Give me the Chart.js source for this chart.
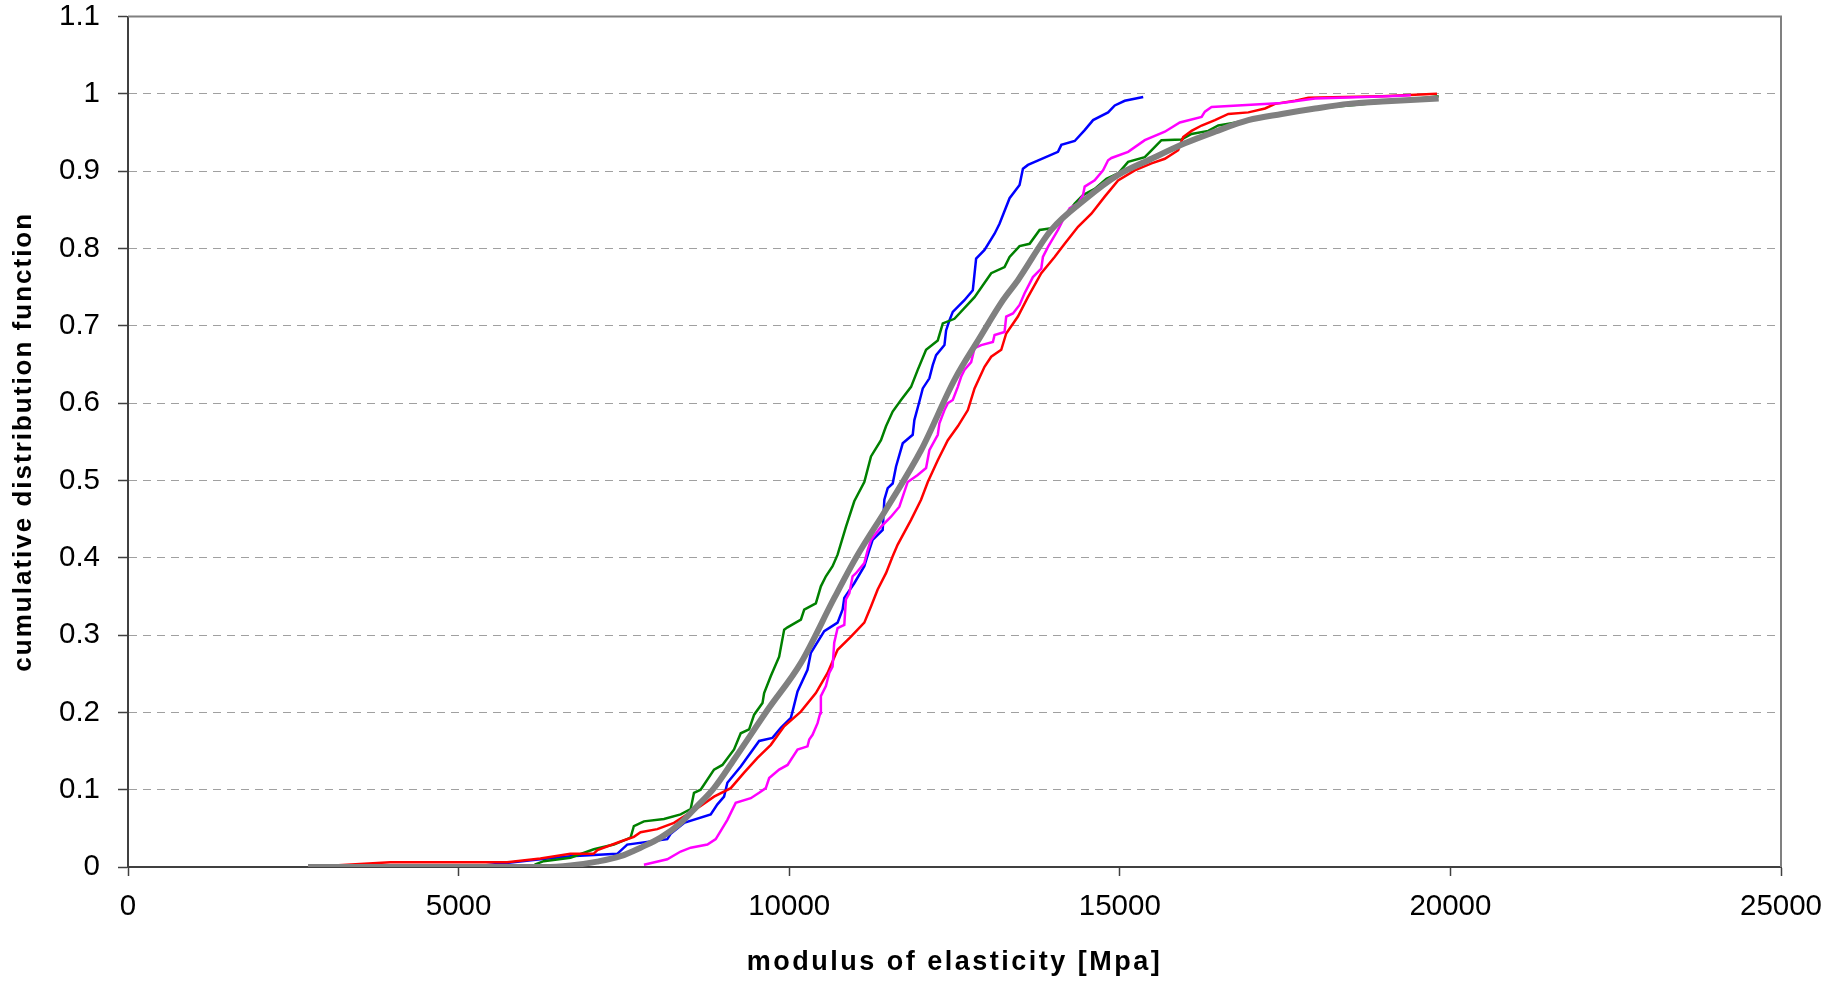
<!DOCTYPE html>
<html>
<head>
<meta charset="utf-8">
<script src="https://cdn.jsdelivr.net/npm/chart.js@4.4.1/dist/chart.umd.min.js"></script>
<style>
  html, body { margin: 0; padding: 0; background: #ffffff; }
  canvas { display: block; }
</style>
</head>
<body>
<canvas id="chart" width="1826" height="981"></canvas>
<script>
// ---- axis tick labels ----
const xTickLabels = ['0', '5000', '10000', '15000', '20000', '25000'];
const yTickLabels = ['0', '0.1', '0.2', '0.3', '0.4', '0.5', '0.6', '0.7', '0.8', '0.9', '1', '1.1'];

// ---- series: modulus of elasticity [MPa] (E) and cumulative probability (F) ----
const fitE = [2723, 6300, 6691, 7096, 7449, 7752, 8055, 8358, 8611, 8863, 9166, 9672, 10177, 10682, 11010, 11490, 11994, 12499, 12878, 13232, 13459, 13964, 14469, 14974, 15479, 15984, 16439, 16944, 17449, 17954, 18459, 18964, 19823];
const fitF = [0, 0, 0.002, 0.007, 0.014, 0.025, 0.038, 0.057, 0.079, 0.102, 0.139, 0.203, 0.264, 0.348, 0.400, 0.466, 0.539, 0.630, 0.684, 0.733, 0.759, 0.824, 0.863, 0.895, 0.916, 0.936, 0.951, 0.966, 0.974, 0.981, 0.987, 0.990, 0.994];

const redE = [2723, 3966, 5733, 6237, 6691, 7040, 7100, 7449, 7651, 7752, 8005, 8257, 8459, 8661, 8863, 9116, 9318, 9520, 9722, 9924, 10176, 10403, 10580, 10732, 10934, 11136, 11237, 11338, 11464, 11565, 11641, 11843, 11994, 12096, 12247, 12399, 12550, 12702, 12803, 12954, 13055, 13207, 13282, 13459, 13610, 13812, 14014, 14166, 14368, 14570, 14772, 14974, 15226, 15479, 15681, 15883, 15959, 16085, 16237, 16439, 16641, 16944, 17196, 17348, 17651, 17853, 18964, 19797];
const redF = [0, 0.006, 0.006, 0.011, 0.017, 0.017, 0.022, 0.033, 0.039, 0.045, 0.049, 0.057, 0.068, 0.079, 0.091, 0.102, 0.122, 0.141, 0.158, 0.182, 0.201, 0.225, 0.251, 0.281, 0.298, 0.316, 0.337, 0.359, 0.380, 0.402, 0.417, 0.449, 0.475, 0.498, 0.526, 0.552, 0.570, 0.591, 0.619, 0.647, 0.660, 0.669, 0.690, 0.712, 0.737, 0.768, 0.789, 0.806, 0.828, 0.845, 0.867, 0.888, 0.901, 0.910, 0.916, 0.927, 0.944, 0.952, 0.959, 0.966, 0.974, 0.976, 0.981, 0.987, 0.991, 0.995, 0.997, 1.000];

const blueE = [5380, 6237, 6691, 7399, 7550, 8156, 8207, 8409, 8813, 8914, 9015, 9065, 9267, 9545, 9747, 9873, 10025, 10050, 10126, 10277, 10328, 10530, 10732, 10808, 10833, 10984, 11136, 11212, 11262, 11414, 11439, 11490, 11565, 11616, 11717, 11868, 11893, 11969, 12020, 12120, 12171, 12222, 12348, 12373, 12423, 12474, 12650, 12777, 12827, 12954, 13106, 13181, 13333, 13484, 13535, 13611, 14065, 14116, 14318, 14469, 14596, 14823, 14924, 15075, 15354];
const blueF = [0.002, 0.010, 0.014, 0.017, 0.029, 0.036, 0.043, 0.057, 0.068, 0.081, 0.091, 0.109, 0.130, 0.163, 0.167, 0.180, 0.193, 0.201, 0.227, 0.255, 0.277, 0.305, 0.316, 0.333, 0.348, 0.367, 0.389, 0.410, 0.423, 0.436, 0.475, 0.490, 0.496, 0.518, 0.548, 0.559, 0.578, 0.602, 0.619, 0.632, 0.649, 0.662, 0.675, 0.694, 0.707, 0.718, 0.733, 0.746, 0.787, 0.798, 0.819, 0.832, 0.865, 0.882, 0.903, 0.908, 0.925, 0.934, 0.939, 0.953, 0.966, 0.976, 0.985, 0.991, 0.996];

const greenE = [6150, 6287, 6691, 7045, 7348, 7601, 7651, 7803, 8106, 8358, 8510, 8560, 8661, 8863, 8990, 9166, 9267, 9394, 9470, 9596, 9621, 9722, 9848, 9924, 9975, 10177, 10227, 10403, 10479, 10555, 10656, 10732, 10858, 10984, 11136, 11237, 11388, 11464, 11565, 11691, 11843, 11944, 12070, 12247, 12323, 12499, 12803, 13055, 13257, 13333, 13484, 13636, 13787, 13964, 14166, 14318, 14444, 14620, 14797, 14974, 15126, 15378, 15479, 15630, 15933, 16085, 16337, 16489, 16691, 16944, 17247, 17500, 17954, 18459, 19217, 19823];
const greenF = [0.003, 0.0075, 0.012, 0.023, 0.029, 0.038, 0.053, 0.059, 0.062, 0.068, 0.075, 0.096, 0.100, 0.126, 0.132, 0.152, 0.173, 0.178, 0.197, 0.212, 0.225, 0.247, 0.272, 0.307, 0.310, 0.320, 0.333, 0.341, 0.363, 0.376, 0.389, 0.404, 0.440, 0.473, 0.498, 0.531, 0.552, 0.570, 0.589, 0.604, 0.621, 0.643, 0.669, 0.681, 0.703, 0.709, 0.737, 0.768, 0.776, 0.789, 0.803, 0.806, 0.824, 0.826, 0.841, 0.858, 0.869, 0.877, 0.890, 0.897, 0.912, 0.918, 0.927, 0.940, 0.941, 0.948, 0.952, 0.959, 0.962, 0.966, 0.970, 0.976, 0.981, 0.985, 0.991, 0.997];

const magentaE = [7803, 8156, 8358, 8510, 8763, 8889, 9065, 9191, 9419, 9545, 9646, 9697, 9848, 9975, 10126, 10277, 10303, 10353, 10429, 10469, 10479, 10555, 10606, 10656, 10681, 10732, 10833, 10858, 10909, 10959, 11010, 11136, 11187, 11237, 11388, 11540, 11666, 11717, 11792, 11944, 12070, 12120, 12247, 12272, 12348, 12399, 12474, 12550, 12600, 12650, 12752, 12803, 12904, 13081, 13106, 13257, 13282, 13384, 13484, 13560, 13686, 13812, 13837, 13914, 14065, 14166, 14242, 14368, 14444, 14469, 14620, 14747, 14823, 14874, 15126, 15378, 15681, 15908, 16237, 16287, 16388, 17449, 17954, 19066, 19400];
const magentaF = [0.003, 0.010, 0.020, 0.025, 0.029, 0.036, 0.061, 0.083, 0.089, 0.096, 0.102, 0.115, 0.126, 0.132, 0.152, 0.156, 0.165, 0.171, 0.186, 0.199, 0.221, 0.234, 0.251, 0.259, 0.290, 0.309, 0.313, 0.346, 0.354, 0.376, 0.380, 0.393, 0.410, 0.423, 0.440, 0.453, 0.466, 0.479, 0.498, 0.507, 0.516, 0.539, 0.559, 0.574, 0.591, 0.600, 0.604, 0.621, 0.634, 0.643, 0.653, 0.671, 0.675, 0.679, 0.688, 0.692, 0.712, 0.716, 0.727, 0.742, 0.763, 0.774, 0.789, 0.802, 0.824, 0.841, 0.852, 0.858, 0.869, 0.880, 0.888, 0.901, 0.914, 0.917, 0.925, 0.940, 0.951, 0.963, 0.970, 0.977, 0.983, 0.988, 0.994, 0.997, 0.998];

const FONT = "'Liberation Sans', Arial, sans-serif";

function pts(xs, ys) { return xs.map((x, i) => ({ x: x, y: ys[i] })); }

function series(label, xs, ys, color, width, smooth) {
  const ds = {
    label: label,
    data: pts(xs, ys),
    borderColor: color,
    backgroundColor: color,
    borderWidth: width,
    pointRadius: 0,
    pointHoverRadius: 0,
    tension: 0,
    fill: false
  };
  if (smooth) ds.cubicInterpolationMode = 'monotone';
  return ds;
}

// draws the grey top/right frame of the plot area
const frame = {
  id: 'frame',
  beforeDatasetsDraw(chart) {
    const { ctx, chartArea: a } = chart;
    ctx.save();
    ctx.strokeStyle = '#808080';
    ctx.lineWidth = 2;
    ctx.beginPath();
    ctx.moveTo(a.left, a.top);
    ctx.lineTo(a.right, a.top);
    ctx.lineTo(a.right, a.bottom);
    ctx.stroke();
    ctx.restore();
  }
};

// letter-spaced axis titles
const titleSpacing = {
  id: 'titleSpacing',
  beforeDraw(chart) {
    [['x', '2.5px'], ['y', '2px']].forEach(([id, sp]) => {
      const s = chart.scales[id];
      if (s && !s.__spaced) {
        const orig = s.drawTitle;
        s.drawTitle = function () {
          const c = this.ctx;
          const prev = c.letterSpacing;
          c.letterSpacing = sp;
          orig.apply(this, arguments);
          c.letterSpacing = prev || '0px';
        };
        s.__spaced = true;
      }
    });
  }
};

new Chart(document.getElementById('chart'), {
  type: 'line',
  data: {
    datasets: [
      series('fit', fitE, fitF, '#808080', 6, true),
      series('specimen 4', magentaE, magentaF, '#ff00ff', 2.5),
      series('specimen 3', redE, redF, '#ff0000', 2.5),
      series('specimen 2', greenE, greenF, '#008000', 2.5),
      series('specimen 1', blueE, blueF, '#0000ff', 2.5)
    ]
  },
  options: {
    responsive: false,
    animation: false,
    devicePixelRatio: 1,
    layout: { padding: { top: 16.5, right: 45, bottom: 0, left: 0 } },
    plugins: {
      legend: { display: false },
      tooltip: { enabled: false }
    },
    scales: {
      x: {
        type: 'linear',
        min: 0,
        max: 25000,
        afterFit(scale) {
          scale.height = 114;
          scale.paddingLeft = 0;
          scale.paddingRight = 0;
        },
        afterBuildTicks(scale) {
          scale.ticks = xTickLabels.map(t => ({ value: Number(t) }));
        },
        ticks: {
          stepSize: 5000,
          autoSkip: false,
          maxRotation: 0,
          padding: 13,
          color: '#000000',
          font: { family: FONT, size: 29.5 },
          callback: (v, i) => xTickLabels[i]
        },
        grid: {
          drawOnChartArea: false,
          drawTicks: true,
          tickLength: 9,
          tickColor: '#404040',
          tickWidth: 1.5
        },
        border: { display: true, color: '#404040', width: 2 },
        title: {
          display: true,
          text: 'modulus of elasticity [Mpa]',
          color: '#000000',
          font: { family: FONT, size: 27, weight: 'bold', lineHeight: 1 },
          padding: { top: 0, bottom: 5 }
        }
      },
      y: {
        type: 'linear',
        min: 0,
        max: 1.1,
        afterFit(scale) {
          scale.width = 128;
          scale.paddingTop = 0;
          scale.paddingBottom = 0;
        },
        afterBuildTicks(scale) {
          scale.ticks = yTickLabels.map(t => ({ value: Number(t) }));
        },
        ticks: {
          stepSize: 0.1,
          autoSkip: false,
          padding: 18,
          color: '#000000',
          font: { family: FONT, size: 29.5 },
          callback: (v, i) => yTickLabels[i]
        },
        grid: {
          color: (ctx) => (ctx.index === 0 || ctx.index === yTickLabels.length - 1) ? 'rgba(0,0,0,0)' : '#a0a0a0',
          lineWidth: 1,
          drawTicks: true,
          tickLength: 10,
          tickColor: '#404040',
          tickWidth: 1.5
        },
        border: { display: true, color: '#404040', width: 2, dash: [8, 6] },
        title: {
          display: true,
          text: 'cumulative distribution function',
          color: '#000000',
          font: { family: FONT, size: 26, weight: 'bold', lineHeight: 1 },
          padding: { top: 11, bottom: 0 }
        }
      }
    }
  },
  plugins: [frame, titleSpacing]
});
</script>
</body>
</html>
